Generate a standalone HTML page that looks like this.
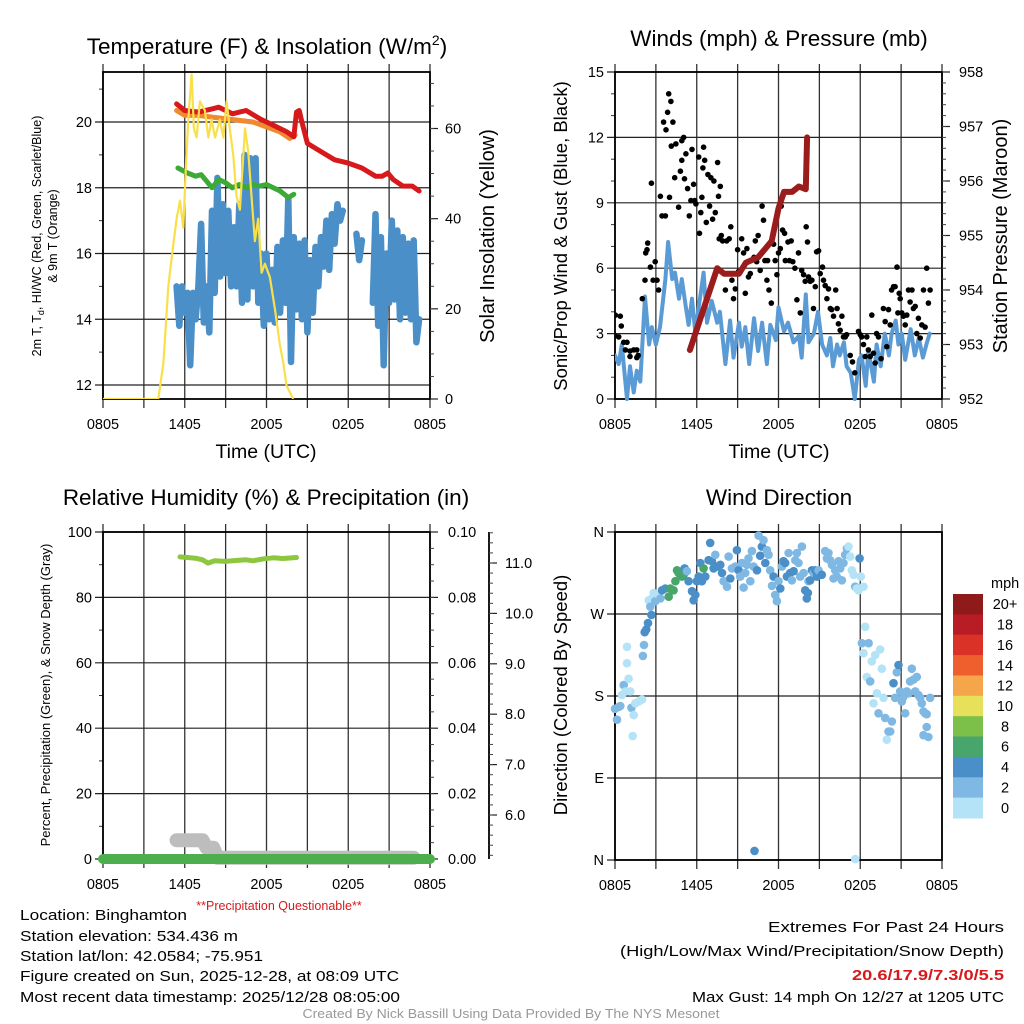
<!DOCTYPE html>
<html><head><meta charset="utf-8"><style>
html,body{margin:0;padding:0;background:#fff;}
svg{display:block;font-family:"Liberation Sans",sans-serif;}
</style></head><body>
<svg id="fig" width="1024" height="1024" viewBox="0 0 1024 1024" xmlns="http://www.w3.org/2000/svg">
<rect x="0" y="0" width="1024" height="1024" fill="#fff"/>
</svg>
<script>
// ---------- DATA ----------
const tempT = [5.4,6,7,8,8.5,9.5,10.5,11.5,12.5,13.5,14.0,14.2,14.4,14.6,15.0,16,17,18,19,20,20.5,20.9,21.3,22,22.7,23.2];
const tempV = [20.55,20.35,20.3,20.4,20.45,20.25,20.35,20.1,19.9,19.7,19.55,20.3,20.35,20.0,19.35,19.1,18.85,18.75,18.6,18.35,18.35,18.45,18.25,18.05,18.05,17.9];
const t9mT = [5.4,6,7,8,9,10,11,12,13,13.7,14.1];
const t9mV = [20.35,20.2,20.2,20.15,20.1,20.05,20.0,19.85,19.7,19.5,19.6];
const dewT = [5.5,6.2,6.8,7.2,7.6,8.0,8.5,9.0,9.5,10,10.5,11,11.5,12,12.5,13,13.6,14.0];
const dewV = [18.6,18.45,18.35,18.4,18.2,18.0,18.25,18.15,18.0,18.1,18.0,18.1,18.05,18.1,18.0,17.9,17.7,17.8];
const hiwcStart = 5.4, hiwcStep = 0.2;
const hiwcV = [15.0,13.8,15.0,14.2,14.8,12.6,14.8,14.0,15.0,16.9,13.9,15.0,13.6,17.3,14.8,18.3,15.3,17.5,15.4,17.3,15.0,16.8,15.0,17.5,14.5,19.0,14.6,18.9,15.0,18.9,14.5,16.0,13.8,16.0,14.0,15.5,13.9,16.2,14.2,16.4,14.5,17.7,12.7,16.5,14.3,16.3,14.0,16.4,13.6,15.8,14.2,16.2,15.0,16.5,15.6,17.0,15.5,17.2,16.3,17.5,17.0,17.3,null,null,null,null,16.6,15.8,16.4,null,null,null,14.5,17.2,13.8,16.5,12.6,16.0,14.5,17.0,14.6,16.7,14.0,16.5,14.2,16.3,14.0,16.4,13.3,14.0];
const solarT = [0,4.06,4.43,4.79,5.11,5.40,5.65,5.89,6.09,6.26,6.50,6.67,6.87,7.11,7.48,7.73,7.97,8.22,8.58,8.83,9.07,9.31,9.56,9.80,10.05,10.42,10.66,10.90,11.15,11.39,11.64,11.88,12.25,12.62,12.98,13.23,13.47,13.96];
const solarV = [0,0,8,25,33,40,44,38,52,62,72,60,58,66,64,58,62,58,62,58,66,60,54,45,42,60,55,45,35,40,28,30,27,20,12,8,3,0];
const windT = [0,0.27,0.5,0.88,1.1,1.37,1.6,1.86,2.2,2.5,2.7,3.0,3.3,3.7,3.9,4.2,4.4,4.7,4.9,5.2,5.4,5.65,5.9,6.1,6.5,6.75,7.1,7.5,7.7,8.1,8.45,8.7,9.1,9.3,9.56,9.85,10.2,10.5,10.8,11.15,11.4,11.8,12.0,12.4,12.7,13.1,13.5,13.7,14.0,14.2,14.6,14.9,15.2,15.55,15.8,16.0,16.3,16.5,16.8,17.0,17.3,17.6,17.9,18.1,18.4,18.6,19.0,19.2,19.5,19.8,20.1,20.3,20.6,20.8,21.05,21.3,21.7,22.0,22.3,22.6,22.9,23.1];
const windV = [2.0,1.6,2.5,0.0,1.5,0.3,1.3,0.8,4.7,2.5,3.3,2.5,3.3,5.5,7.2,5.5,5.8,4.6,5.5,4.2,3.4,4.6,3.0,4.0,5.8,3.5,4.5,3.5,4.0,1.6,3.6,1.9,3.5,2.4,3.3,1.6,3.7,2.2,3.5,1.6,3.4,2.7,4.2,3.1,3.5,2.6,2.9,1.9,4.8,2.6,3.0,4.0,2.5,2.0,2.8,1.5,2.5,2.0,2.6,1.5,1.2,0.0,1.8,2.0,0.6,2.2,0.8,2.5,1.5,3.0,2.0,3.0,3.6,2.5,3.0,1.8,3.2,2.0,2.8,1.9,2.6,3.0];
const gustT = [0.02,0.39,0.46,0,0.27,0.64,0.88,0.76,1.1,1.37,1.1,1.6,1.7,1.6,2.0,2.2,2.35,2.25,2.4,2.67,2.6,2.8,2.95,3.08,3.2,3.33,3.45,3.57,3.7,3.74,3.86,3.94,4.1,4.25,4.0,4.13,4.38,4.47,4.67,4.8,4.9,5.04,4.9,5.1,5.2,5.33,5.45,5.57,5.65,5.77,5.85,5.94,6.14,6.2,6.3,6.38,6.5,6.58,6.45,6.7,6.82,6.94,7.04,7.16,7.26,7.36,7.53,7.6,7.73,7.65,7.8,7.9,8.1,8.2,8.38,8.5,8.58,8.7,8.83,9.0,9.07,9.3,9.44,9.56,9.68,9.8,9.93,10.2,10.3,10.4,10.5,10.66,10.8,10.9,11.0,11.15,11.2,11.3,11.47,11.64,11.76,11.88,12.0,12.13,12.2,12.3,12.45,12.5,12.7,12.8,12.93,13.05,13.2,13.35,13.47,13.6,13.7,13.84,13.96,14.03,14.13,14.2,14.33,14.45,14.57,14.7,14.8,14.94,15.06,15.23,15.3,15.43,15.55,15.67,15.8,15.9,16.04,16.2,16.3,16.4,16.53,16.65,16.77,16.9,17.0,17.26,17.43,17.6,17.87,18.0,18.1,18.24,18.36,18.48,18.6,18.73,18.85,18.97,19.1,19.2,19.34,19.53,19.7,19.83,19.95,20.07,20.2,20.3,20.44,20.56,20.7,20.76,20.86,20.93,21.05,21.17,21.3,21.42,21.54,21.66,21.8,21.9,22.03,22.15,22.27,22.4,22.52,22.64,22.76,22.88,23.0,23.13];
const gustV = [3.85,3.8,3.35,2.9,2.85,2.6,2.6,2.25,2.2,2.25,1.95,2.25,2.0,1.9,4.6,5.45,6.85,6.7,7.15,9.9,6.05,5.45,6.3,5.45,5.0,9.3,8.4,12.7,8.4,12.35,13.15,14.0,13.65,12.7,9.25,11.6,10.15,11.7,8.8,10.45,11.85,12.0,10.95,10.1,11.25,9.65,8.4,9.1,11.45,9.85,9.1,8.95,11.1,7.6,8.55,9.25,11.55,10.95,10.6,8.1,10.3,8.85,10.15,8.25,10.0,8.55,10.85,9.3,9.75,7.35,7.5,7.25,5.0,7.25,7.35,7.9,5.45,4.6,5.05,6.85,5.85,7.35,6.7,4.85,6.9,5.6,5.75,6.5,7.25,6.3,7.5,5.9,8.85,8.2,6.35,5.45,6.35,5.0,4.4,7.1,6.35,5.7,6.7,6.9,8.85,7.75,7.6,6.35,7.2,6.35,7.25,6.3,6.0,4.55,6.7,3.95,5.9,5.7,5.4,7.9,7.2,5.6,5.4,5.45,4.15,5.15,6.75,6.8,5.75,6.05,5.45,5.2,4.6,5.05,4.15,4.1,3.8,5.0,4.15,3.45,3.15,3.8,2.85,2.85,2.95,2.0,1.7,1.2,3.1,2.95,2.85,2.5,1.95,2.85,2.25,1.95,3.85,2.1,1.65,3.0,2.85,1.85,4.15,3.55,2.4,4.1,3.4,5.0,5.15,5.15,6.05,3.95,4.85,4.6,3.95,3.8,3.4,3.85,5.0,4.45,5.0,4.15,4.25,3.0,3.7,2.8,3.4,5.0,3.3,6.0,4.4,5.0];
const presT = [5.5,7.5,8.0,9.1,9.6,10.5,11.5,12.0,12.4,13.0,13.5,14.0,14.05,14.1];
const presV = [952.9,954.4,954.3,954.3,954.5,954.6,954.9,955.5,955.8,955.8,955.9,955.85,956.3,956.8];
const rhT = [5.65,6.2,6.8,7.3,7.7,8.2,9.0,9.5,10.5,11.0,11.8,12.5,13.2,14.2];
const rhV = [92.4,92.2,92.0,91.5,90.5,91.2,91.0,91.2,91.5,91.2,91.8,92.1,91.9,92.2];
const precipT = [0,24];
const precipV = [0,0];
const snowT = [5.4,7.3,7.6,8.1,8.4,22.8];
const snowV = [5.5,5.5,5.35,5.35,5.15,5.15];
const dirT = [0.0,0.15,0.27,0.39,0.51,0.64,0.76,0.88,0.88,1.0,1.12,1.2,1.3,1.37,1.49,1.74,1.98,2.05,2.13,2.18,2.3,2.42,2.67,2.47,2.59,2.71,2.84,2.96,3.2,3.33,3.45,3.69,3.94,4.06,4.3,4.43,4.55,4.67,4.79,4.91,5.04,5.11,5.28,5.4,5.65,5.77,5.89,6.01,6.14,6.26,6.38,6.5,6.63,6.87,6.99,7.11,7.24,7.36,7.48,7.73,7.85,7.97,8.22,8.34,8.46,8.58,8.83,8.95,9.07,9.19,9.32,9.44,9.56,9.68,9.8,9.93,10.05,10.17,10.42,10.54,10.66,10.78,10.9,11.03,11.15,11.27,11.39,11.52,11.64,11.76,11.88,12.0,12.13,12.25,12.37,12.49,12.62,12.74,12.86,12.98,13.11,13.23,13.35,13.47,13.59,13.72,13.84,13.96,14.08,14.16,14.2,14.33,14.45,14.57,14.69,14.82,14.94,15.18,15.43,15.55,15.67,15.79,15.92,16.04,16.16,16.28,16.41,16.53,16.65,16.77,16.89,17.02,17.14,17.26,17.38,17.51,17.63,17.75,17.87,17.95,18.04,18.24,18.36,18.12,18.24,18.48,18.61,18.73,18.85,18.97,19.1,19.22,19.34,19.46,19.58,19.71,19.83,19.95,20.07,20.2,20.32,20.44,20.56,20.68,20.81,20.93,21.05,21.17,21.3,21.42,21.54,21.66,21.78,21.91,22.03,22.15,22.27,22.4,22.52,22.64,22.76,22.88,23.0,23.13,22.64,22.88,10.24,17.63];
const dirV = [166,154,168,169,181,192,185,234,216,199,185,167,136,159,172,174,176,224,236,250,253,260,269,285,278,287,293,284,291,287,296,298,289,298,296,306,318,315,313,311,313,320,317,306,295,285,291,306,311,326,306,320,311,329,348,328,320,335,322,324,315,306,300,333,309,320,322,340,318,311,326,299,315,324,331,306,339,322,318,356,334,344,351,326,340,335,318,301,311,291,284,306,298,322,328,326,311,337,315,307,317,329,337,326,311,344,315,296,287,293,306,307,318,315,318,311,318,313,339,331,337,329,324,309,318,311,328,320,307,326,335,342,344,333,318,313,300,298,296,331,311,300,256,238,227,201,238,196,218,172,225,183,161,231,210,178,156,132,141,141,152,194,178,206,214,185,174,179,161,185,183,196,210,198,185,201,181,178,172,163,161,146,135,178,137,160,10,1];
const dirS = [3,3,3,3,1,3,1,1,1,1,1,3,1,1,1,1,1,3,3,5,5,5,5,1,3,1,1,3,1,3,5,5,7,7,7,7,7,7,7,7,7,5,3,5,5,5,5,5,5,5,5,7,5,5,5,5,5,3,5,5,5,3,3,3,5,3,3,5,5,3,3,3,3,3,3,3,3,3,5,3,5,5,3,5,3,3,3,3,5,3,3,3,5,3,5,5,5,3,5,3,5,3,3,3,3,3,3,5,5,5,3,5,5,3,5,5,3,5,3,3,3,3,3,3,3,3,3,3,3,3,3,3,1,1,1,1,3,1,1,5,1,1,1,3,1,1,3,3,1,1,1,1,3,1,1,1,3,1,3,3,3,5,3,3,5,3,3,3,3,3,3,3,3,3,3,3,3,3,3,3,3,3,3,3,3,3,5,1];
const binColors = ["#b4e3f7","#7fb8e3","#4a8fc7","#48a56c","#7cc04a","#e6e05a","#f6a64a","#ef5f2d","#db3228","#b81c24","#8f1a1a"];
const binLabels = ["0","2","4","6","8","10","12","14","16","18","20+"];
const timeLabels = ["0805","1405","2005","0205","0805"];

// ---------- HELPERS ----------
const NS = "http://www.w3.org/2000/svg";
const svg = document.getElementById("fig");
function mk(tag, attrs, parent){
  const e = document.createElementNS(NS, tag);
  for (const k in attrs) e.setAttribute(k, attrs[k]);
  (parent||svg).appendChild(e);
  return e;
}
function txt(str, x, y, size, anchor, parent, extra){
  const e = mk("text", Object.assign({x:x, y:y, "font-size":size, "text-anchor":anchor||"start", fill:"#000"}, extra||{}), parent);
  e.textContent = str;
  return e;
}
function lin(d0,d1,r0,r1){ return v => r0 + (v-d0)*(r1-r0)/(d1-d0); }
function path(xs, ys, fx, fy){
  let d = "", pen = false;
  for (let i=0;i<xs.length;i++){
    if (ys[i]===null || ys[i]===undefined){ pen=false; continue; }
    d += (pen?"L":"M") + fx(xs[i]).toFixed(1) + "," + fy(ys[i]).toFixed(1);
    pen = true;
  }
  return d;
}
function panelFrame(g, x0,x1,y0,y1, fx, fy, yTicks, yLabels, yMinor, name){
  for (let t=0;t<=24;t+=3){
    const l = mk("line",{x1:fx(t),x2:fx(t),y1:y0-8,y2:y1+9,stroke:"#333","stroke-width":1.3},g);
    
    
  }
  for (let i=0;i<yTicks.length;i++){
    const y = fy(yTicks[i]);
    const l = mk("line",{x1:x0-8,x2:x1,y1:y,y2:y,stroke:"#222","stroke-width":1.2},g);
    
    
    const t = txt(yLabels[i], x0-11, y+5, 14.5, "end", g);
    
    
  }
  for (const m of yMinor){
    const y = fy(m);
    const l = mk("line",{x1:x0-4,x2:x0,y1:y,y2:y,stroke:"#333","stroke-width":1},g);
    
    
  }
  const b = mk("rect",{x:x0,y:y0,width:x1-x0,height:y1-y0,fill:"none",stroke:"#000","stroke-width":1.8},g);
  
  
  for (let i=0;i<5;i++){
    const t = txt(timeLabels[i], fx(i*6), y1+30, 14.5, "middle", g);
    
    
  }
}
function rightAxis(g, x, fy, ticks, labels, minor, lx){
  for (let i=0;i<ticks.length;i++){
    const y = fy(ticks[i]);
    const l = mk("line",{x1:x,x2:x+8,y1:y,y2:y,stroke:"#222","stroke-width":1.2},g);
    
    
    const t = txt(labels[i], lx, y+5, 14.5, "start", g);
    
    
  }
  for (const m of minor){
    const y = fy(m);
    const l = mk("line",{x1:x,x2:x+4,y1:y,y2:y,stroke:"#444","stroke-width":1},g);
    
    
  }
}
function rotText(str, x, y, size, g){
  const t = mk("text",{x:0,y:0,"font-size":size,"text-anchor":"middle",fill:"#000",transform:`translate(${x},${y}) rotate(-90)`},g);
  t.textContent = str;
  return t;
}
function seq(a,b,s){ const r=[]; for(let v=a; v<=b+1e-9; v+=s) r.push(+v.toFixed(4)); return r; }

// ---------- PANEL 1 ----------
{
  const g = mk("g",{});  
  const x0=103,x1=430,y0=72,y1=399;
  const fx = lin(0,24,x0,x1);
  const fy = lin(12,20,385,122);
  const fyR = lin(0,60,399,128.5);
  const title = mk("text",{x:267,y:54,"font-size":22.5,"text-anchor":"middle",fill:"#000"},g);
  title.innerHTML = 'Temperature (F) &amp; Insolation (W/m<tspan dy="-9" font-size="14">2</tspan><tspan dy="9">)</tspan>';
   
  panelFrame(g,x0,x1,y0,y1,fx,fy,[12,14,16,18,20],["12","14","16","18","20"],[13,15,17,19,21],"temperature");
  rightAxis(g,x1,fyR,[0,20,40,60],["0","20","40","60"],seq(5,70,5),445);
  const xt = txt("Time (UTC)", 266, 458, 19.5, "middle", g);  
  const lt = mk("text",{x:0,y:0,"font-size":12.5,"text-anchor":"middle",fill:"#000",transform:"translate(41,236) rotate(-90)"},g);
  lt.innerHTML = '2m T, T<tspan font-size="9" dy="3">d</tspan><tspan dy="-3">, HI/WC (Red, Green, Scarlet/Blue)</tspan>';
   
  const lt2 = rotText("& 9m T (Orange)", 57, 236, 12.5, g);  
  const rt = rotText("Solar Insolation (Yellow)", 494, 236, 20, g);  
  const clip = mk("clipPath",{id:"c1"},g); mk("rect",{x:x0,y:y0,width:x1-x0,height:y1-y0},clip);
  const pg = mk("g",{"clip-path":"url(#c1)"},g);
  const hw = mk("path",{d:path(seq(hiwcStart,hiwcStart+hiwcStep*(hiwcV.length-1),hiwcStep),hiwcV,fx,fy),stroke:"#4a8fc7","stroke-width":6.5,fill:"none","stroke-linejoin":"round","stroke-linecap":"round"},pg);
   
  const dw = mk("path",{d:path(dewT,dewV,fx,fy),stroke:"#3daa35","stroke-width":5,fill:"none","stroke-linejoin":"round","stroke-linecap":"round"},pg);
   
  const o9 = mk("path",{d:path(t9mT,t9mV,fx,fy),stroke:"#f08a30","stroke-width":5,fill:"none","stroke-linejoin":"round","stroke-linecap":"round"},pg);
   
  const rd = mk("path",{d:path(tempT,tempV,fx,fy),stroke:"#d7191c","stroke-width":5,fill:"none","stroke-linejoin":"round","stroke-linecap":"round"},pg);
   
  const sl = mk("path",{d:path(solarT,solarV,fx,fyR),stroke:"#f9e04b","stroke-width":2.2,fill:"none","stroke-linejoin":"round"},pg);
   
}

// ---------- PANEL 2 ----------
{
  const g = mk("g",{});  
  const x0=615,x1=942,y0=72,y1=399;
  const fx = lin(0,24,x0,x1);
  const fy = lin(0,15,399,72);
  const fyR = lin(952,958,399,72);
  const title = txt("Winds (mph) & Pressure (mb)", 779, 46, 22.5, "middle", g);
   
  panelFrame(g,x0,x1,y0,y1,fx,fy,[0,3,6,9,12,15],["0","3","6","9","12","15"],seq(1,14,1).filter(v=>v%3),"winds");
  rightAxis(g,x1,fyR,[952,953,954,955,956,957,958],["952","953","954","955","956","957","958"],seq(952.2,957.8,0.2),959);
  const xt = txt("Time (UTC)", 779, 458, 19.5, "middle", g);  
  const lt = rotText("Sonic/Prop Wind & Gust (Blue, Black)", 567, 236, 18.5, g);  
  const rt = rotText("Station Pressure (Maroon)", 1007, 236, 20, g);  
  const clip = mk("clipPath",{id:"c2"},g); mk("rect",{x:x0,y:y0-2,width:x1-x0,height:y1-y0+4},clip);
  const pg = mk("g",{"clip-path":"url(#c2)"},g);
  const wl = mk("path",{d:path(windT,windV,fx,fy),stroke:"#5b9bd5","stroke-width":4,fill:"none","stroke-linejoin":"round","stroke-linecap":"round"},pg);
   
  for (let i=0;i<gustT.length;i++){
    const c = mk("circle",{cx:fx(gustT[i]).toFixed(1),cy:fy(gustV[i]).toFixed(1),r:2.8,fill:"#000"},pg);
    
    
  }
  const pl = mk("path",{d:path(presT,presV,fx,fyR),stroke:"#9b1c1c","stroke-width":6,fill:"none","stroke-linejoin":"round","stroke-linecap":"round"},pg);
   
}

// ---------- PANEL 3 ----------
{
  const g = mk("g",{});  
  const x0=103,x1=430,y0=532,y1=859;
  const fx = lin(0,24,x0,x1);
  const fy = lin(0,100,859,532);
  const fyR = lin(0,0.1,859,532);
  const fyS = lin(6,11,815,563);
  const title = txt("Relative Humidity (%) & Precipitation (in)", 266, 505, 22.5, "middle", g);
   
  panelFrame(g,x0,x1,y0,y1,fx,fy,[0,20,40,60,80,100],["0","20","40","60","80","100"],[10,30,50,70,90],"humidity");
  rightAxis(g,x1,fyR,[0,0.02,0.04,0.06,0.08,0.1],["0.00","0.02","0.04","0.06","0.08","0.10"],seq(0.005,0.095,0.005),448);
  const sa = mk("line",{x1:489,x2:489,y1:532,y2:859,stroke:"#000","stroke-width":1.8},g);
   
  rightAxis(g,489,fyS,[6,7,8,9,10,11],["6.0","7.0","8.0","9.0","10.0","11.0"],seq(5.2,11.6,0.2),505);
  const lt = rotText("Percent, Precipitation (Green), & Snow Depth (Gray)", 50, 695, 13, g);  
  const pq = txt("**Precipitation Questionable**", 279, 910, 12.5, "middle", g, {fill:"#d7191c"});
   
  const sn = mk("path",{d:path(snowT,snowV,fx,fyS),stroke:"#bdbdbd","stroke-width":14,fill:"none","stroke-linejoin":"round","stroke-linecap":"round"},g);
   
  const pr = mk("path",{d:path(precipT,precipV,fx,fyR),stroke:"#4cae4c","stroke-width":10,fill:"none","stroke-linecap":"round"},g);
   
  const rh = mk("path",{d:path(rhT,rhV,fx,fy),stroke:"#8dc63f","stroke-width":5,fill:"none","stroke-linejoin":"round","stroke-linecap":"round"},g);
   
}

// ---------- PANEL 4 ----------
{
  const g = mk("g",{});  
  const x0=615,x1=942,y0=532,y1=860;
  const fx = lin(0,24,x0,x1);
  const fy = lin(0,360,860,532);
  const title = txt("Wind Direction", 779, 505, 22.5, "middle", g);
   
  panelFrame(g,x0,x1,y0,y1,fx,fy,[0,90,180,270,360],["N","E","S","W","N"],[],"wind-direction");
  const lt = rotText("Direction (Colored By Speed)", 567, 695, 18.5, g);  
  for (let i=0;i<dirT.length;i++){
    const bin = Math.min(10, Math.floor(dirS[i]/2));
    const c = mk("circle",{cx:fx(dirT[i]).toFixed(1),cy:fy(dirV[i]).toFixed(1),r:4.3,fill:binColors[bin]},g);
    
    
  }
  const lg = mk("g",{},g);  
  const ml = txt("mph", 991, 588, 14.5, "start", lg);  
  const bh = (818-594)/11;
  for (let i=0;i<11;i++){
    const k = 10-i;
    const r = mk("rect",{x:953,y:(594+i*bh).toFixed(1),width:30,height:(bh+0.5).toFixed(1),fill:binColors[k]},lg);
    
    
    const t = txt(binLabels[k], 1005, 594+i*bh+bh/2+5, 14.5, "middle", lg);
    
    
  }
}

// ---------- FOOTER ----------
{
  const g = mk("g",{});  
  const lines = [["Location: Binghamton",920,167],["Station elevation: 534.436 m",941,218],["Station lat/lon: 42.0584; -75.951",961,243],["Figure created on Sun, 2025-12-28, at 08:09 UTC",981,379],["Most recent data timestamp: 2025/12/28 08:05:00",1002,380]];
  for (const L of lines){
    const t = txt(L[0],20,L[1],15,"start",g,{textLength:L[2],lengthAdjust:"spacingAndGlyphs"});
    
    
  }
  const e1 = txt("Extremes For Past 24 Hours",1004,932,15,"end",g,{textLength:236,lengthAdjust:"spacingAndGlyphs"});
   
  const e2 = txt("(High/Low/Max Wind/Precipitation/Snow Depth)",1004,956,15,"end",g,{textLength:384,lengthAdjust:"spacingAndGlyphs"});
   
  const e3 = txt("20.6/17.9/7.3/0/5.5",1004,980,15,"end",g,{fill:"#d7191c","font-weight":"bold",textLength:152,lengthAdjust:"spacingAndGlyphs"});
   
  const e4 = txt("Max Gust: 14 mph On 12/27 at 1205 UTC",1004,1002,15,"end",g,{textLength:312,lengthAdjust:"spacingAndGlyphs"});
   
  const cr = txt("Created By Nick Bassill Using Data Provided By The NYS Mesonet",511,1018,12.5,"middle",g,{fill:"#999",textLength:417,lengthAdjust:"spacingAndGlyphs"});
   
}
</script>
</body></html>
